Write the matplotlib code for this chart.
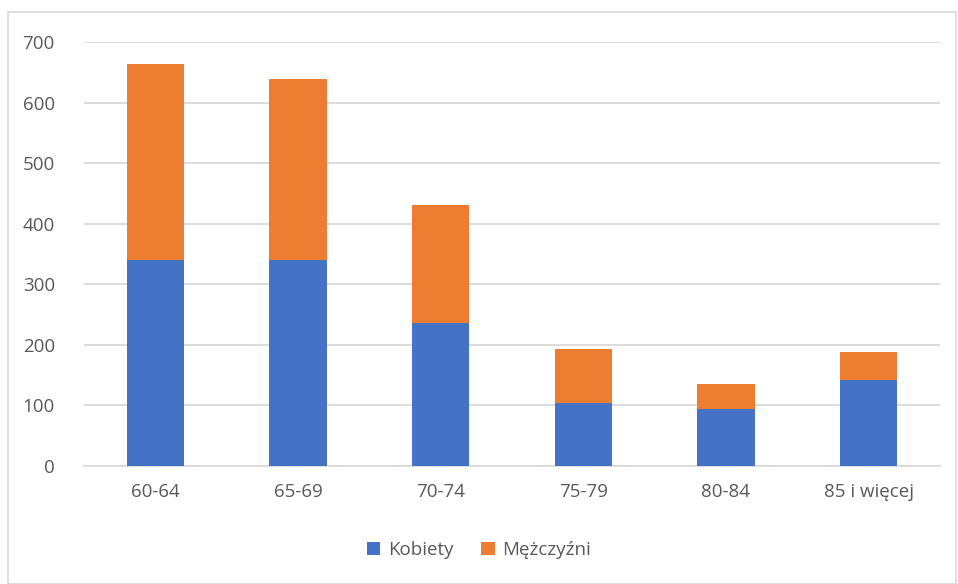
import numpy as np
from matplotlib import pyplot as plt
from matplotlib.patches import Rectangle

categories = ['60-64', '65-69', '70-74', '75-79', '80-84', '85 i więcej']
kobiety = [340, 340, 236, 104, 94, 142]
mezczyzni = [324, 299, 195, 89, 41, 46]

blue = '#4472C4'
orange = '#ED7D31'
grey = '#595959'

plt.rcParams['font.family'] = ['Open Sans', 'DejaVu Sans']

fig = plt.figure(figsize=(9.58, 5.84), dpi=100)
ax = fig.add_axes([0.0877, 0.202, 0.8935, 0.726])

x = np.arange(len(categories))
ax.bar(x, kobiety, width=0.4, color=blue, label='Kobiety', zorder=3)
ax.bar(x, mezczyzni, width=0.4, bottom=kobiety, color=orange, label='Mężczyźni', zorder=3)

ax.set_xlim(-0.5, len(categories) - 0.5)
ax.set_ylim(0, 700)
ax.set_yticks(np.arange(0, 701, 100))
ax.set_xticks(x)
ax.set_xticklabels(categories)
ax.grid(axis='y', color='#D9D9D9', linewidth=1.3, zorder=0)
for s in ['top', 'right', 'left']:
    ax.spines[s].set_visible(False)
ax.spines['bottom'].set_color('#D9D9D9')
ax.spines['bottom'].set_linewidth(1.3)
ax.tick_params(axis='both', length=0, labelsize=13.5, colors=grey, pad=12)
ax.tick_params(axis='y', pad=21)

leg = fig.legend(loc='center', bbox_to_anchor=(0.5, 0.058), ncol=2, frameon=False,
                 fontsize=13.5, handlelength=0.7, handleheight=0.7, columnspacing=1.5,
                 handletextpad=0.4)
for t in leg.get_texts():
    t.set_color(grey)

# chart border
fig.patches.append(Rectangle((0.008, 0.0), 0.99, 0.98, transform=fig.transFigure,
                             fill=False, edgecolor='#D9D9D9', linewidth=1.2))

plt.savefig('out.png', dpi=100)
